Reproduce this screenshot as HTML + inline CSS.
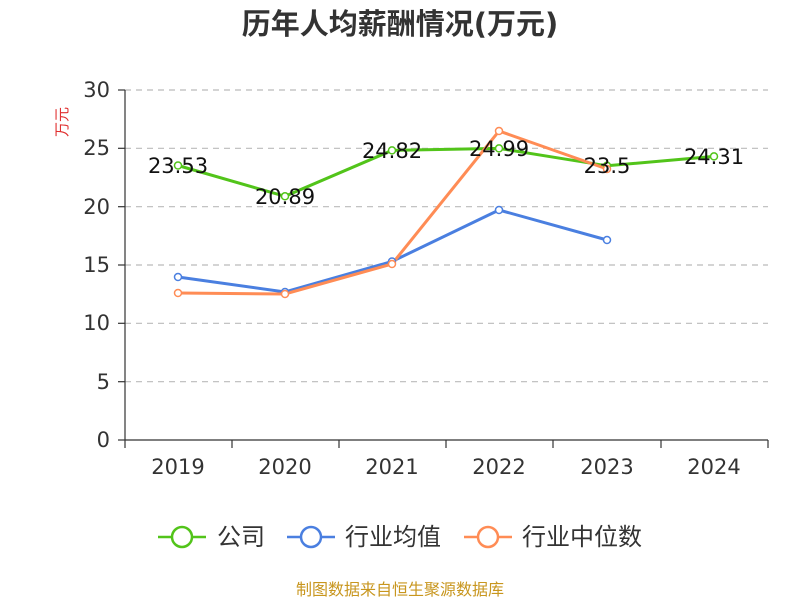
<!DOCTYPE html>
<html><head><meta charset="utf-8"><style>
body{margin:0;background:#fff;}
text{font-family:"DejaVu Sans","Noto Sans CJK SC",sans-serif;}
</style></head><body>
<svg width="800" height="600" xmlns="http://www.w3.org/2000/svg">
<text x="400" y="34" text-anchor="middle" font-size="29" font-weight="bold" fill="#333" font-family="Liberation Sans, Noto Sans CJK SC, sans-serif">历年人均薪酬情况(万元)</text>
<text x="70" y="122" font-size="15" fill="#e03030" text-anchor="middle" transform="rotate(-90 70 122)" dy="-3">万元</text>
<g stroke="#bbb" stroke-dasharray="6,5" stroke-width="1.2">
<line x1="125" y1="90" x2="768" y2="90"/><line x1="125" y1="148.3" x2="768" y2="148.3"/>
<line x1="125" y1="206.7" x2="768" y2="206.7"/><line x1="125" y1="265" x2="768" y2="265"/>
<line x1="125" y1="323.3" x2="768" y2="323.3"/><line x1="125" y1="381.7" x2="768" y2="381.7"/>
</g>
<g stroke="#333" stroke-width="1.2">
<line x1="125" y1="90" x2="125" y2="440"/><line x1="125" y1="440" x2="768" y2="440"/>
<line x1="118" y1="90" x2="125" y2="90"/><line x1="118" y1="148.3" x2="125" y2="148.3"/><line x1="118" y1="206.7" x2="125" y2="206.7"/><line x1="118" y1="265" x2="125" y2="265"/><line x1="118" y1="323.3" x2="125" y2="323.3"/><line x1="118" y1="381.7" x2="125" y2="381.7"/><line x1="118" y1="440" x2="125" y2="440"/>
<line x1="125" y1="440" x2="125" y2="448"/><line x1="232" y1="440" x2="232" y2="448"/><line x1="339" y1="440" x2="339" y2="448"/><line x1="446" y1="440" x2="446" y2="448"/><line x1="553" y1="440" x2="553" y2="448"/><line x1="661" y1="440" x2="661" y2="448"/><line x1="768" y1="440" x2="768" y2="448"/>
</g>
<g font-size="21" fill="#333" text-anchor="end">
<text x="110" y="97">30</text><text x="110" y="155">25</text><text x="110" y="214">20</text><text x="110" y="272">15</text><text x="110" y="330">10</text><text x="110" y="389">5</text><text x="110" y="447">0</text>
</g>
<g font-size="21" fill="#333" text-anchor="middle">
<text x="178" y="474">2019</text><text x="285" y="474">2020</text><text x="392" y="474">2021</text><text x="499" y="474">2022</text><text x="607" y="474">2023</text><text x="714" y="474">2024</text>
</g>
<g fill="none" stroke-width="3">
<polyline stroke="#52c41a" points="178,165.5 285,196.3 392,150.4 499,148.4 607,165.8 714,156.4"/>
<polyline stroke="#4a7fe0" points="178,277 285,292 392,261.5 499,210 607,240"/>
<polyline stroke="#ff8c55" points="178,293 285,294 392,264 499,131 607,169"/>
</g>
<g fill="#fff" stroke-width="1.5">
<g stroke="#52c41a"><circle cx="178" cy="165.5" r="3.5"/><circle cx="285" cy="196.3" r="3.5"/><circle cx="392" cy="150.4" r="3.5"/><circle cx="499" cy="148.4" r="3.5"/><circle cx="607" cy="165.8" r="3.5"/><circle cx="714" cy="156.4" r="3.5"/></g>
<g stroke="#4a7fe0"><circle cx="178" cy="277" r="3.5"/><circle cx="285" cy="292" r="3.5"/><circle cx="392" cy="261.5" r="3.5"/><circle cx="499" cy="210" r="3.5"/><circle cx="607" cy="240" r="3.5"/></g>
<g stroke="#ff8c55"><circle cx="178" cy="293" r="3.5"/><circle cx="285" cy="294" r="3.5"/><circle cx="392" cy="264" r="3.5"/><circle cx="499" cy="131" r="3.5"/><circle cx="607" cy="169" r="3.5"/></g>
</g>
<g font-size="21" fill="#111" text-anchor="middle">
<text x="178" y="173">23.53</text><text x="285" y="204">20.89</text><text x="392" y="158">24.82</text><text x="499" y="156">24.99</text><text x="607" y="173">23.5</text><text x="714" y="164">24.31</text>
</g>
<g stroke-width="2.5" fill="#fff">
<line x1="158" y1="537" x2="206" y2="537" stroke="#52c41a"/><circle cx="182" cy="537" r="10" stroke="#52c41a"/>
<line x1="287" y1="537" x2="335" y2="537" stroke="#4a7fe0"/><circle cx="311" cy="537" r="10" stroke="#4a7fe0"/>
<line x1="464" y1="537" x2="512" y2="537" stroke="#ff8c55"/><circle cx="488" cy="537" r="10" stroke="#ff8c55"/>
</g>
<g font-size="24" fill="#333">
<text x="217" y="545">公司</text><text x="345" y="545">行业均值</text><text x="522" y="545">行业中位数</text>
</g>
<text x="400" y="595" font-size="16" fill="#c8961e" text-anchor="middle">制图数据来自恒生聚源数据库</text>
</svg>
</body></html>
